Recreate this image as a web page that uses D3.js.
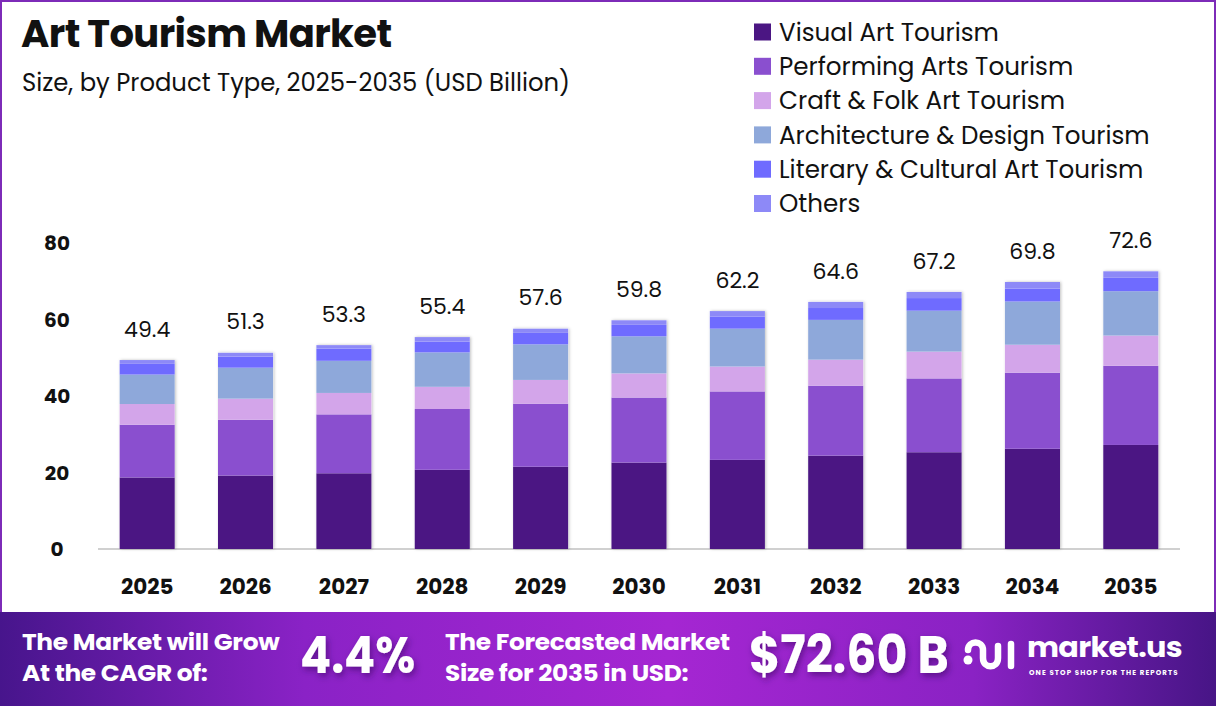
<!DOCTYPE html>
<html>
<head>
<meta charset="utf-8">
<script src="https://cdn.jsdelivr.net/npm/d3@7"></script>
<style>
  body { margin: 0; background: #fff; }
  svg { display: block; font-family: Poppins, Inter, "Noto Sans", sans-serif; }
</style>
</head>
<body>
<div class="graph"></div>
<script>
// chart data
var years = ["2025", "2026", "2027", "2028", "2029", "2030", "2031", "2032", "2033", "2034", "2035"];
var totals = [49.4, 51.3, 53.3, 55.4, 57.6, 59.8, 62.2, 64.6, 67.2, 69.8, 72.6];
var seriesNames = ["Visual Art Tourism", "Performing Arts Tourism", "Craft & Folk Art Tourism",
                   "Architecture & Design Tourism", "Literary & Cultural Art Tourism", "Others"];
var visualArt     = [18.7, 19.2, 19.8, 20.7, 21.5, 22.6, 23.3, 24.4, 25.3, 26.2, 27.2];
var performing    = [13.8, 14.6, 15.4, 15.9, 16.5, 17.0, 17.9, 18.3, 19.3, 19.9, 20.7];
var craftFolk     = [5.4, 5.5, 5.6, 5.8, 6.2, 6.3, 6.5, 6.8, 7.0, 7.3, 7.9];
var architecture  = [7.7, 8.1, 8.4, 9.0, 9.3, 9.7, 9.9, 10.4, 10.7, 11.3, 11.6];
var literary      = [2.8, 2.9, 3.2, 2.8, 3.0, 3.0, 3.2, 3.1, 3.3, 3.4, 3.5];
var others        = [1.0, 1.0, 0.9, 1.2, 1.1, 1.2, 1.4, 1.6, 1.6, 1.7, 1.7];
var yTicks = [0, 20, 40, 60, 80];
var colors = ["#4b1683", "#8a4fcf", "#d3a5ea", "#8ea8da", "#6f6bff", "#8d89f7"];

var W = 1216, H = 706;
var margin = {top: 243, right: 36, bottom: 157, left: 98};

var svg = d3.select(".graph").append("svg")
    .attr("width", W)
    .attr("height", H);

var defs = svg.append("defs");
var grad = defs.append("linearGradient").attr("id", "foot").attr("x1", "0").attr("x2", "1");
grad.append("stop").attr("offset", "0").attr("stop-color", "#47158c");
grad.append("stop").attr("offset", "0.25").attr("stop-color", "#8a22c6");
grad.append("stop").attr("offset", "0.55").attr("stop-color", "#a526d2");
grad.append("stop").attr("offset", "0.8").attr("stop-color", "#8a22c4");
grad.append("stop").attr("offset", "1").attr("stop-color", "#471586");

var shadow = defs.append("filter").attr("id", "shadow")
    .attr("x", "-20%").attr("y", "-5%").attr("width", "140%").attr("height", "110%");
shadow.append("feDropShadow").attr("dx", 1).attr("dy", 0).attr("stdDeviation", 1.5)
    .attr("flood-color", "#000").attr("flood-opacity", 0.25);

var tshadow = defs.append("filter").attr("id", "tshadow");
tshadow.append("feDropShadow").attr("dx", 2).attr("dy", 3).attr("stdDeviation", 3)
    .attr("flood-color", "#2a0050").attr("flood-opacity", 0.5);

// frame
svg.append("rect").attr("x", 1).attr("y", 1).attr("width", W - 2).attr("height", H - 2)
    .attr("fill", "#fff").attr("stroke", "#7d2bb8").attr("stroke-width", 2);

// title
svg.append("text").attr("x", 21).attr("y", 47)
    .attr("font-size", 38.5).attr("font-weight", 700).attr("fill", "#111")
    .attr("letter-spacing", -0.6)
    .text("Art Tourism Market");
svg.append("text").attr("x", 22).attr("y", 91)
    .attr("font-size", 24.3).attr("fill", "#111")
    .text("Size, by Product Type, 2025-2035 (USD Billion)");

// legend
var legend = svg.append("g").attr("transform", "translate(754,32)");
seriesNames.forEach(function(name, i) {
  var row = legend.append("g").attr("transform", "translate(0," + (i * 34.3) + ")");
  row.append("rect").attr("x", 0).attr("y", -8.5).attr("width", 17).attr("height", 17)
      .attr("fill", colors[i]);
  row.append("text").attr("x", 25).attr("y", 0).attr("dy", "0.35em")
      .attr("font-size", 24.6).attr("fill", "#111").text(name);
});

// scales
var x = d3.scaleBand().domain(years).range([margin.left, W - margin.right]).paddingInner(0.44).paddingOuter(0.22);
var y = d3.scaleLinear().domain([0, 80]).range([H - margin.bottom, margin.top]);

// baseline
svg.append("line")
    .attr("x1", margin.left).attr("x2", W - margin.right)
    .attr("y1", y(0)).attr("y2", y(0))
    .attr("stroke", "#d0d0d0").attr("stroke-width", 2);

// y ticks
svg.append("g").selectAll("text").data(yTicks).enter().append("text")
    .attr("x", 57).attr("y", function(d) { return y(d); })
    .attr("dy", "0.35em").attr("text-anchor", "middle")
    .attr("font-size", 20).attr("font-weight", 700).attr("fill", "#111")
    .text(function(d) { return d; });

// x labels
svg.append("g").selectAll("text").data(years).enter().append("text")
    .attr("x", function(d) { return x(d) + x.bandwidth() / 2; })
    .attr("y", 586).attr("dy", "0.35em").attr("text-anchor", "middle")
    .attr("font-size", 21.5).attr("font-weight", 700).attr("fill", "#111")
    .text(function(d) { return d; });

// stacked bars
var table = years.map(function(yr, i) {
  return {year: yr, s0: visualArt[i], s1: performing[i], s2: craftFolk[i],
          s3: architecture[i], s4: literary[i], s5: others[i]};
});
var stack = d3.stack().keys(["s0", "s1", "s2", "s3", "s4", "s5"]);
var layers = stack(table);

var barsG = svg.append("g");
barsG.selectAll("rect.shade").data(table).enter().append("rect")
    .attr("class", "shade")
    .attr("x", function(d) { return x(d.year); })
    .attr("width", x.bandwidth())
    .attr("y", function(d, i) { return y(totals[i]); })
    .attr("height", function(d, i) { return y(0) - y(totals[i]); })
    .attr("fill", "#fff")
    .attr("filter", "url(#shadow)");

barsG.selectAll("g.layer").data(layers).enter().append("g")
    .attr("class", "layer")
    .attr("fill", function(d, i) { return colors[i]; })
  .selectAll("rect").data(function(d) { return d; }).enter().append("rect")
    .attr("x", function(d) { return x(d.data.year); })
    .attr("width", x.bandwidth())
    .attr("y", function(d) { return y(d[1]); })
    .attr("height", function(d) { return y(d[0]) - y(d[1]); });

// totals
svg.append("g").selectAll("text").data(totals).enter().append("text")
    .attr("x", function(d, i) { return x(years[i]) + x.bandwidth() / 2; })
    .attr("y", function(d) { return y(d) - 31; })
    .attr("dy", "0.35em").attr("text-anchor", "middle")
    .attr("font-size", 22).attr("fill", "#111")
    .text(function(d) { return d.toFixed(1); });

// footer
var foot = svg.append("g");
foot.append("rect").attr("x", 0).attr("y", 612).attr("width", W).attr("height", H - 612)
    .attr("fill", "url(#foot)");

// a bit of horizontal stretch keeps the two lines wide without their boxes colliding
function twoLines(xp, l1, l2) {
  foot.append("text").attr("transform", "translate(" + xp + ",650) scale(1.13,1)")
      .attr("font-size", 22).attr("font-weight", 700)
      .attr("fill", "#fff").attr("letter-spacing", -0.3).text(l1);
  foot.append("text").attr("transform", "translate(" + xp + ",681) scale(1.13,1)")
      .attr("font-size", 22).attr("font-weight", 700)
      .attr("fill", "#fff").attr("letter-spacing", -0.3).text(l2);
}
twoLines(22, "The Market will Grow", "At the CAGR of:");
twoLines(445, "The Forecasted Market", "Size for 2035 in USD:");

foot.append("text").attr("transform", "translate(300,673) scale(1,1.12)")
    .attr("font-size", 46).attr("font-weight", 700).attr("fill", "#fff")
    .attr("filter", "url(#tshadow)").text("4.4%");
foot.append("text").attr("transform", "translate(749,673) scale(1,1.12)")
    .attr("font-size", 47.5).attr("font-weight", 700).attr("fill", "#fff")
    .attr("filter", "url(#tshadow)").text("$72.60 B");

// logo
var logo = foot.append("g").attr("transform", "translate(963,638)");
logo.append("circle").attr("cx", 5).attr("cy", 22).attr("r", 4.5).attr("fill", "#fff");
logo.append("path")
    .attr("d", "M5,12 C5,2 20,2 20,12 L20,20 C20,31 35,31 35,20 L35,8")
    .attr("fill", "none").attr("stroke", "#fff").attr("stroke-width", 6.5).attr("stroke-linecap", "round");
logo.append("line").attr("x1", 48).attr("x2", 48).attr("y1", 6).attr("y2", 28)
    .attr("stroke", "#fff").attr("stroke-width", 6.5).attr("stroke-linecap", "round");
logo.append("text").attr("transform", "translate(64,19) scale(1.08,1)")
    .attr("font-size", 28).attr("font-weight", 700).attr("fill", "#fff")
    .attr("letter-spacing", -0.6).text("market.us");
logo.append("text").attr("x", 66).attr("y", 37)
    .attr("font-size", 7).attr("font-weight", 700).attr("fill", "#fff")
    .attr("letter-spacing", 1.1).text("ONE STOP SHOP FOR THE REPORTS");
</script>
</body>
</html>
